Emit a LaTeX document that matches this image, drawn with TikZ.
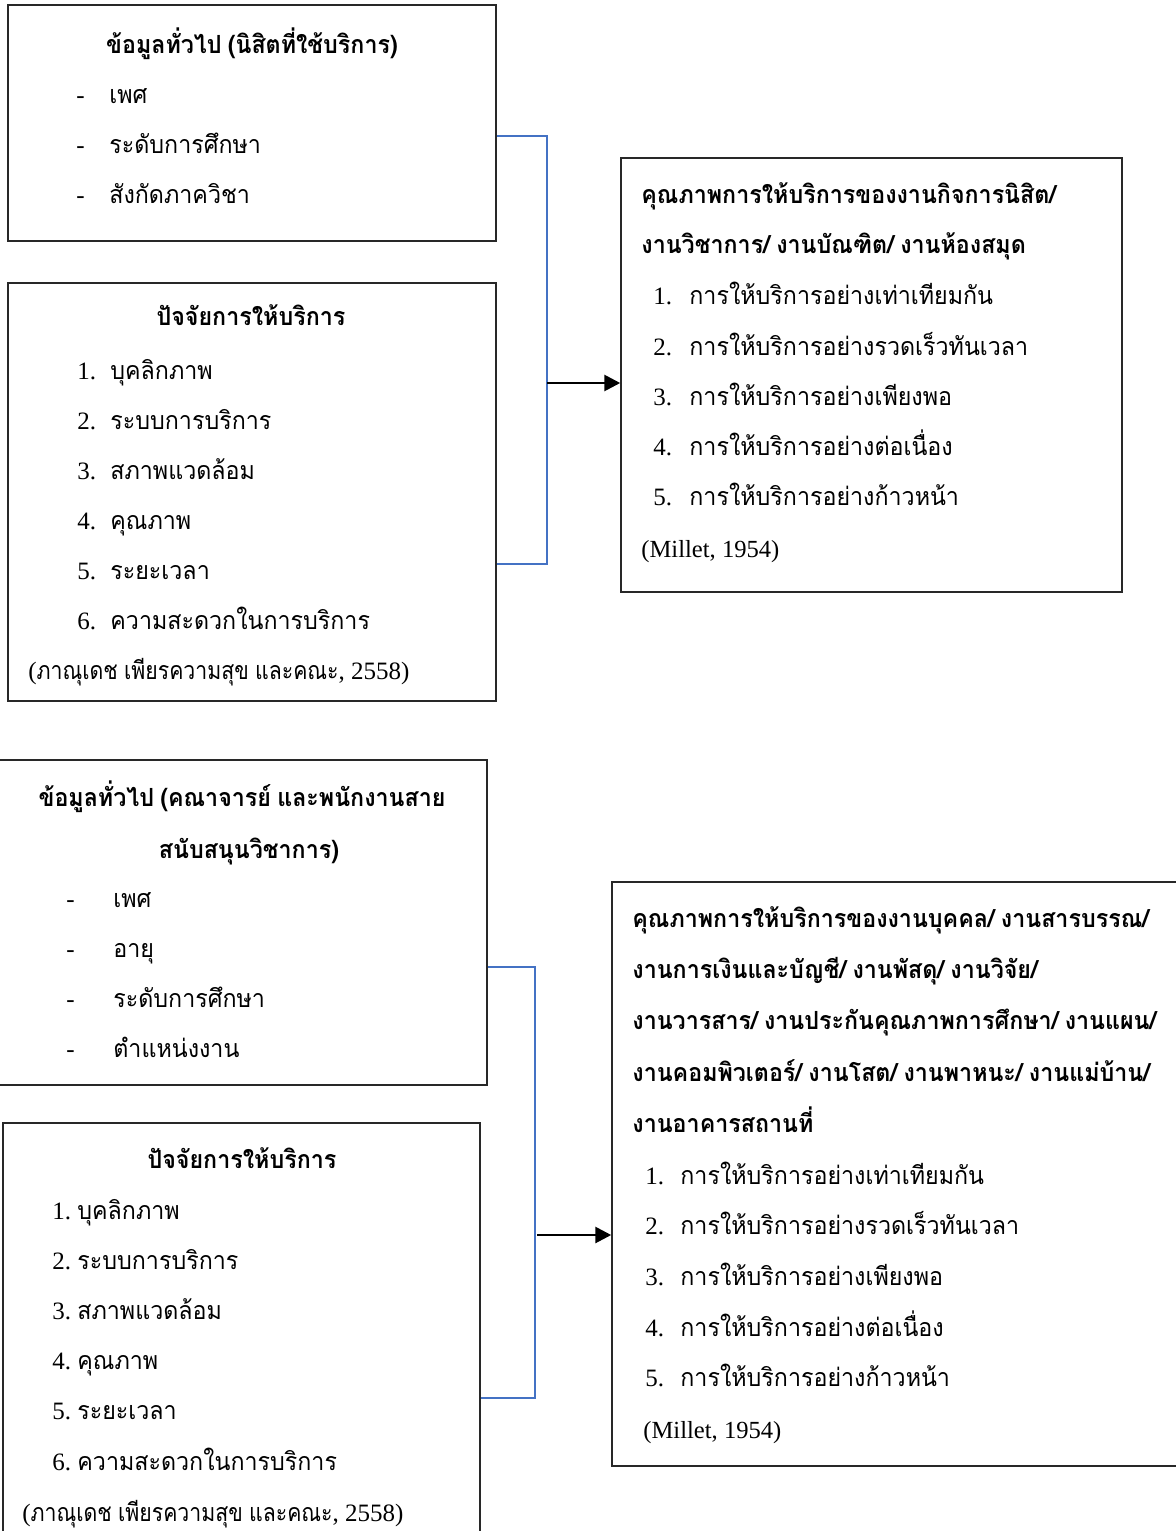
\documentclass[tikz,border=0pt]{standalone}
\usepackage{fontspec}
\setmainfont{Liberation Serif}
\newfontfamily\thai[Script=Thai,FakeStretch=0.93,BoldFeatures={FakeStretch=0.93}]{Loma}
\newfontfamily\thainarrow[Script=Thai,FakeStretch=0.85]{Loma}
\newfontfamily\lat{Liberation Serif}
\usetikzlibrary{fit,arrows.meta}
\definecolor{linkblue}{RGB}{68,114,196}
\definecolor{boxline}{RGB}{40,40,40}
\newcommand{\inum}[2][16.5pt]{\makebox[#1][l]{\lat #2}}
\newcommand{\lsp}{{\lat\ }}
\newcommand{\citeline}{{\lat (}{\thainarrow ภาณุเดช}\lsp{\thainarrow เพียรความสุข}\lsp{\thainarrow และคณะ}{\lat , 2558)}}
\begin{document}
\begin{tikzpicture}[x=0.5pt,y=-0.5pt,
  box/.style={draw=boxline,line width=0.75pt,inner sep=0pt},
  link/.style={draw=linkblue,line width=1pt},
  arr/.style={line width=1.4pt,-{Triangle[length=8pt,width=8pt]}},
  tx/.style={anchor=base west,inner sep=0pt,font=\thai\fontsize{12.5}{15}\selectfont},
  hd/.style={anchor=base west,inner sep=0pt,font=\thai\bfseries\fontsize{12.5}{15}\selectfont},
  hdc/.style={anchor=base,inner sep=0pt,font=\thai\bfseries\fontsize{12.5}{15}\selectfont},
  lt/.style={anchor=base west,inner sep=0pt,font=\lat\fontsize{12.3}{15}\selectfont}]
\useasboundingbox (0,0) rectangle (1176,1531);
\clip (0,0) rectangle (1176,1531);
\fill[white] (0,0) rectangle (1176,1531);
% boxes
\node[box,fit={(8,5)(496,241)}] (g1) {};
\node[box,fit={(8,283)(496,701)}] (f1) {};
\node[box,fit={(621,158)(1122,592)}] (q1) {};
\node[box,fit={(-4,760)(487,1085)}] (g2) {};
\node[box,fit={(3,1123)(480,1545)}] (f2) {};
\node[box,fit={(612,882)(1185,1466)}] (q2) {};
% connectors
\coordinate (j1t) at (547,136);
\coordinate (j1b) at (547,564);
\coordinate (j1m) at (547,383);
\draw[link] (g1.east |- j1t) -- (j1t) -- (j1b) -- (f1.east |- j1b);
\draw[arr] (j1m) -- (q1.west |- j1m);
\coordinate (j2t) at (535,967);
\coordinate (j2b) at (535,1398);
\coordinate (j2m) at (537,1235);
\draw[link] (g2.east |- j2t) -- (j2t) -- (j2b) -- (f2.east |- j2b);
\draw[arr] (j2m) -- (q2.west |- j2m);
% box 1
\node[hdc] (g1h) at (252,53) {ข้อมูลทั่วไป\lsp(นิสิตที่ใช้บริการ)};
\node[tx] (g1a) at (76,103) {\inum{-}เพศ};
\node[tx] (g1b) at (76,153) {\inum{-}ระดับการศึกษา};
\node[tx] (g1c) at (76,203) {\inum{-}สังกัดภาควิชา};
% box 2
\node[hdc] (f1h) at (251,325) {ปัจจัยการให้บริการ};
\node[tx] (f1a) at (77,379) {\inum{1.}บุคลิกภาพ};
\node[tx] (f1b) at (77,429) {\inum{2.}ระบบการบริการ};
\node[tx] (f1c) at (77,479) {\inum{3.}สภาพแวดล้อม};
\node[tx] (f1d) at (77,529) {\inum{4.}คุณภาพ};
\node[tx] (f1e) at (77,579) {\inum{5.}ระยะเวลา};
\node[tx] (f1f) at (77,629) {\inum{6.}ความสะดวกในการบริการ};
\node[tx] (f1g) at (28,679) {\citeline};
% right box 1
\node[hd] (q1h) at (641,203) {คุณภาพการให้บริการของงานกิจการนิสิต/};
\node[hd] (q1i) at (641,253) {งานวิชาการ/\lsp งานบัณฑิต/\lsp งานห้องสมุด};
\node[tx] (q1a) at (653,304) {\inum[18pt]{1.}การให้บริการอย่างเท่าเทียมกัน};
\node[tx] (q1b) at (653,355) {\inum[18pt]{2.}การให้บริการอย่างรวดเร็วทันเวลา};
\node[tx] (q1c) at (653,405) {\inum[18pt]{3.}การให้บริการอย่างเพียงพอ};
\node[tx] (q1d) at (653,455) {\inum[18pt]{4.}การให้บริการอย่างต่อเนื่อง};
\node[tx] (q1e) at (653,505) {\inum[18pt]{5.}การให้บริการอย่างก้าวหน้า};
\node[lt] (q1f) at (641,557) {(Millet, 1954)};
% box 3
\node[hdc] (g2h) at (242,806) {ข้อมูลทั่วไป\lsp(คณาจารย์\lsp และพนักงานสาย};
\node[hdc] (g2i) at (249,858) {สนับสนุนวิชาการ)};
\node[tx] (g2a) at (66,907) {\inum[23.5pt]{-}เพศ};
\node[tx] (g2b) at (66,957) {\inum[23.5pt]{-}อายุ};
\node[tx] (g2c) at (66,1007) {\inum[23.5pt]{-}ระดับการศึกษา};
\node[tx] (g2d) at (66,1057) {\inum[23.5pt]{-}ตำแหน่งงาน};
% box 4
\node[hdc] (f2h) at (242,1168) {ปัจจัยการให้บริการ};
\node[tx] (f2a) at (52,1219) {\inum[12.5pt]{1.}บุคลิกภาพ};
\node[tx] (f2b) at (52,1269) {\inum[12.5pt]{2.}ระบบการบริการ};
\node[tx] (f2c) at (52,1319) {\inum[12.5pt]{3.}สภาพแวดล้อม};
\node[tx] (f2d) at (52,1369) {\inum[12.5pt]{4.}คุณภาพ};
\node[tx] (f2e) at (52,1419) {\inum[12.5pt]{5.}ระยะเวลา};
\node[tx] (f2f) at (52,1470) {\inum[12.5pt]{6.}ความสะดวกในการบริการ};
\node[tx] (f2g) at (22,1521) {\citeline};
% right box 2
\node[hd] (q2h) at (632,927) {คุณภาพการให้บริการของงานบุคคล/\lsp งานสารบรรณ/};
\node[hd] (q2i) at (632,978) {งานการเงินและบัญชี/\lsp งานพัสดุ/\lsp งานวิจัย/};
\node[hd] (q2j) at (632,1029) {งานวารสาร/\lsp งานประกันคุณภาพการศึกษา/\lsp งานแผน/};
\node[hd] (q2k) at (632,1081) {งานคอมพิวเตอร์/\lsp งานโสต/\lsp งานพาหนะ/\lsp งานแม่บ้าน/};
\node[hd] (q2l) at (632,1132) {งานอาคารสถานที่};
\node[tx] (q2a) at (645,1184) {\inum[17.5pt]{1.}การให้บริการอย่างเท่าเทียมกัน};
\node[tx] (q2b) at (645,1234) {\inum[17.5pt]{2.}การให้บริการอย่างรวดเร็วทันเวลา};
\node[tx] (q2c) at (645,1285) {\inum[17.5pt]{3.}การให้บริการอย่างเพียงพอ};
\node[tx] (q2d) at (645,1336) {\inum[17.5pt]{4.}การให้บริการอย่างต่อเนื่อง};
\node[tx] (q2e) at (645,1386) {\inum[17.5pt]{5.}การให้บริการอย่างก้าวหน้า};
\node[lt] (q2f) at (643,1438) {(Millet, 1954)};
\end{tikzpicture}
\end{document}
